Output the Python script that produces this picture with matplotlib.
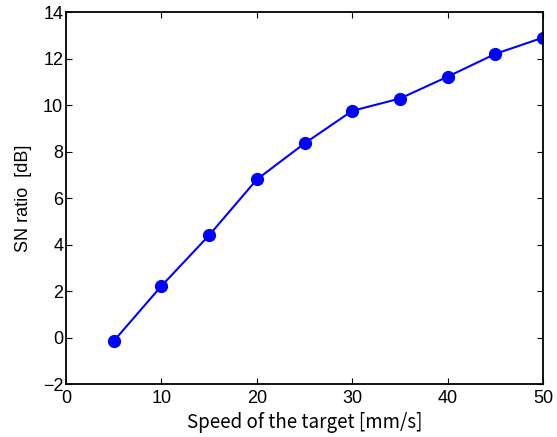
import matplotlib

matplotlib.use("Agg")
import matplotlib.pyplot as plt

speed = [5, 10, 15, 20, 25, 30, 35, 40, 45, 50]
sn_ratio = [-0.15, 2.22, 4.4, 6.8, 8.35, 9.75, 10.28, 11.22, 12.2, 12.9]
xticks = [0, 10, 20, 30, 40, 50]
yticks = [-2, 0, 2, 4, 6, 8, 10, 12, 14]

plt.rcParams["font.family"] = ["Liberation Sans", "DejaVu Sans"]

fig = plt.figure(figsize=(5.57, 4.37), dpi=100)
ax = fig.add_axes([0.1185, 0.121, 0.8565, 0.8515])
ax.plot(speed, sn_ratio, "-o", color="#0000ff", lw=1.5, ms=8.5)
ax.set_xlim(0, 50)
ax.set_ylim(-2, 14)
ax.set_xticks(xticks)
ax.set_yticks(yticks)
ax.set_yticklabels(["\u22122" if t < 0 else str(t) for t in yticks])
ax.tick_params(direction="in", top=True, right=True, labelsize=13, length=4,
               width=0.8, pad=2)
ax.tick_params(axis="x", pad=4)
for s in ax.spines.values():
    s.set_linewidth(1.3)
ax.set_xlabel("Speed of the target [mm/s]", fontsize=13.5,
              family=["Noto Sans CJK JP", "DejaVu Sans"], labelpad=4)
ax.set_ylabel("SN ratio  [dB]", fontsize=13, labelpad=8)
fig.savefig("out.png", dpi=100)
